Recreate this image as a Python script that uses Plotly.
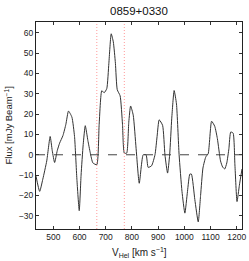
import plotly.graph_objects as go

title = "0859+0330"
velocity = [434, 448, 460, 475, 488, 496, 505, 515, 524, 537, 548, 558, 571, 581, 590, 599,
            606, 614, 622, 632, 641, 651, 666, 675, 685, 694, 704, 712, 721, 729, 737, 744,
            755, 764, 771, 780, 788, 795, 805, 816, 828, 843, 854, 862, 875, 888, 896, 904,
            917, 926, 936, 944, 952, 961, 970, 980, 991, 1002, 1012, 1021, 1027, 1040, 1053,
            1062, 1071, 1082, 1091, 1104, 1116, 1126, 1138, 1146, 1154, 1162, 1170, 1177,
            1186, 1193, 1201, 1210, 1220]
flux = [-10.5, -18, -12, -3, 9, 2, -3.8, 2, 5.7, 9.5, 15, 21.5, 18.5, 9, -12, -27.5,
        -10, 5, 14.3, 7, 1, -4, -4.9, 15, 31.5, 30.5, 32.5, 45, 59.5, 55.5, 45, 32,
        29, 15, 0.8, 0.8, 16, 24, 19.5, 3, -14, 0, 0, -6.2, -5.4, 0, 9, 17.2,
        14.5, 0, -9, 0, 18, 31.6, 25, 0, -18, -28.7, -18, -9.5, -9.5, -22, -33,
        -20, -6.5, -1, 0.5, 16.5, 14, 8, -3, -6, -7, -4, 3, 11.2,
        10.7, -5, -23, -15, -7]
vel_limits = [666, 771]
baseline = 0
x_ticks = [500, 600, 700, 800, 900, 1000, 1100, 1200]
y_ticks = [-30, -20, -10, 0, 10, 20, 30, 40, 50, 60]

fig = go.Figure()
fig.add_trace(go.Scatter(x=velocity, y=flux, mode="lines",
                         line=dict(color="#333333", width=1, shape="spline", smoothing=0.5),
                         showlegend=False, hoverinfo="skip"))
fig.add_hline(y=baseline, line=dict(color="#444444", width=1, dash="dash"))
for v in vel_limits:
    fig.add_vline(x=v, line=dict(color="#ff9a9a", width=1, dash="1px,2px"))

fig.update_layout(
    width=249, height=261,
    margin=dict(l=36, r=7, t=22, b=32, autoexpand=False),
    paper_bgcolor="white", plot_bgcolor="white",
    font=dict(family="Liberation Sans, Arial", color="#222222", size=8),
    showlegend=False,
)
fig.update_xaxes(range=[434, 1220], tickvals=x_ticks, ticks="inside", ticklen=3,
                 tickcolor="#333", showline=True, linecolor="#222", linewidth=1,
                 mirror="ticks", showgrid=False, zeroline=False, automargin=False,
                 tickfont=dict(size=8.5))
fig.update_yaxes(range=[-36.5, 65.3], tickvals=y_ticks, ticks="inside", ticklen=3,
                 tickcolor="#333", showline=True, linecolor="#222", linewidth=1,
                 mirror="ticks", showgrid=False, zeroline=False, automargin=False,
                 tickfont=dict(size=8.5))
fig.add_annotation(text=title, xref="paper", yref="paper", x=0.5, y=1, yshift=11,
                   showarrow=False, font=dict(size=11.5, color="#111"), yanchor="middle")
fig.add_annotation(text="V<sub>Hel</sub> [km s<sup>−1</sup>]", xref="paper", yref="paper",
                   x=0.5, y=0, yshift=-23, showarrow=False, yanchor="middle",
                   font=dict(size=10, color="#222"))
fig.add_annotation(text="Flux [mJy Beam<sup>−1</sup>]", xref="paper", yref="paper",
                   x=0, xshift=-28, y=0.5, textangle=-90, showarrow=False,
                   xanchor="center", font=dict(size=9.5, color="#222"))
fig.write_html("out.html", config={"displayModeBar": False},
               post_script="document.body.style.margin='0';")
